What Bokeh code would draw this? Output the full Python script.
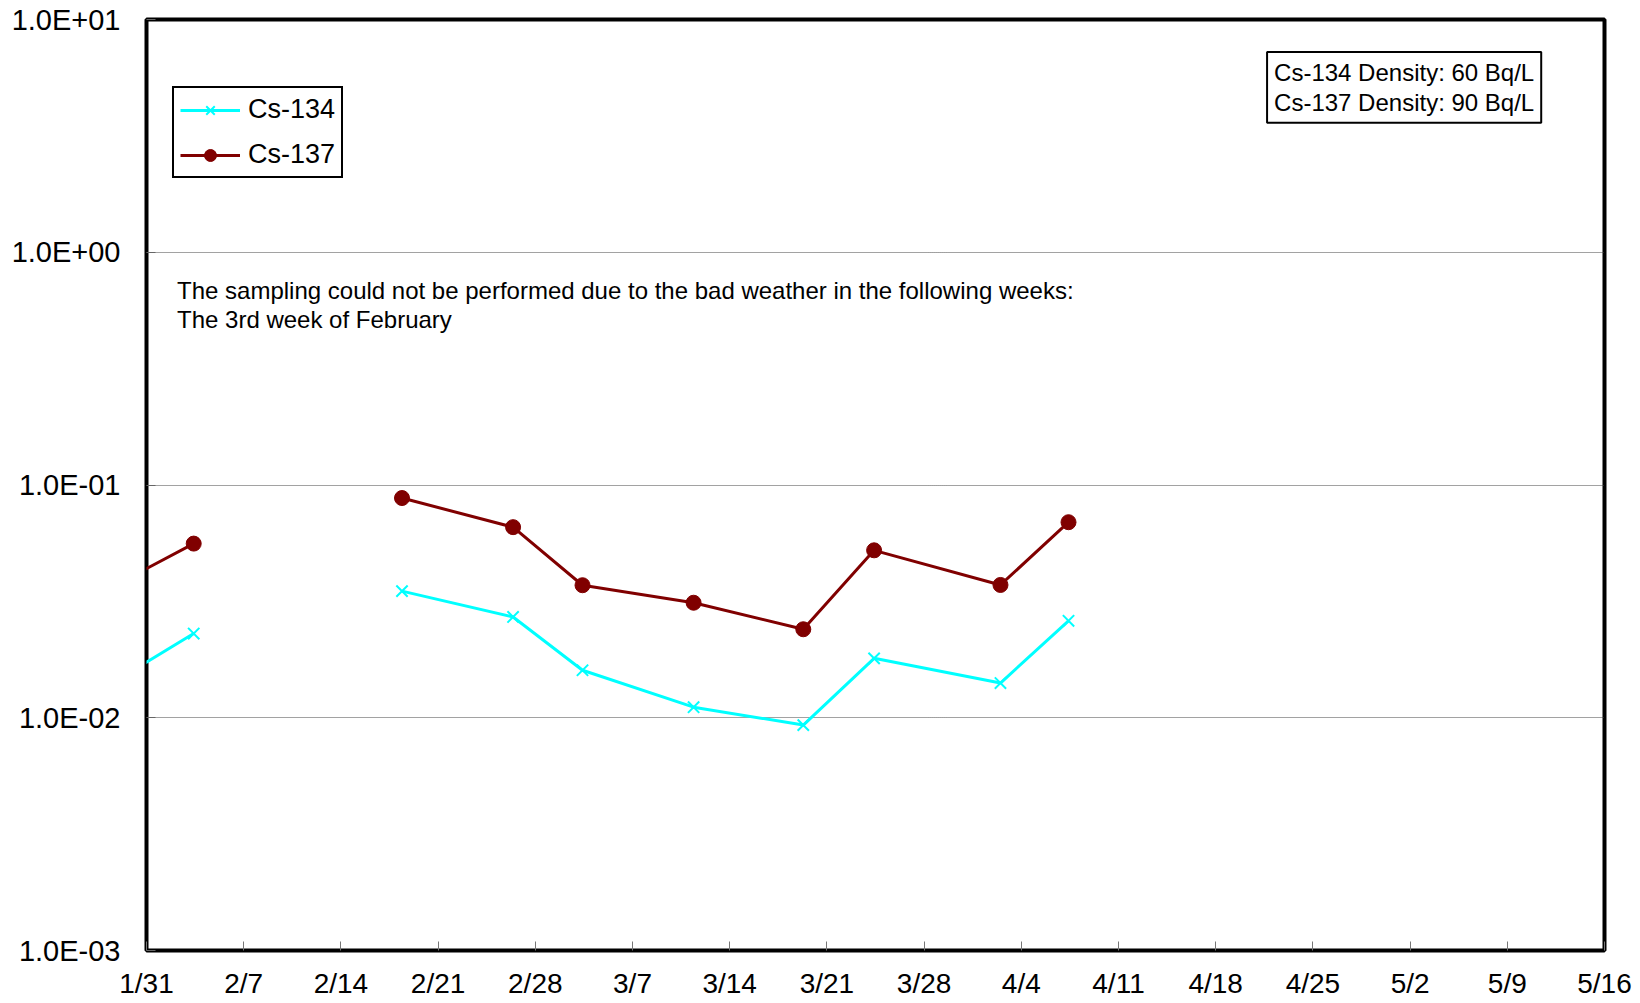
from bokeh.plotting import figure
from bokeh.models import (Range1d, FixedTicker, CustomJSTickFormatter, Legend,
                          LegendItem, Label, ColumnDataSource)
from bokeh.embed import file_html
from bokeh.resources import INLINE
import numpy as np

# ---- data (x = days after 1/31; NaN marks the missed week) ----
sample_day = [-4.6, 3.4, 10.4, 18.4, 26.4, 31.4, 39.4, 47.3, 52.4, 61.5, 66.4]
cs134 = [0.0118, 0.0230, np.nan, 0.0350, 0.0271, 0.0160, 0.0111, 0.0093, 0.0180, 0.0141, 0.0261]
cs137 = [0.0313, 0.0560, np.nan, 0.0879, 0.0659, 0.0371, 0.0312, 0.0240, 0.0524, 0.0372, 0.0692]

x_tick_days = [0, 7, 14, 21, 28, 35, 42, 49, 56, 63, 70, 77, 84, 91, 98, 105]
x_tick_labels = ["1/31", "2/7", "2/14", "2/21", "2/28", "3/7", "3/14", "3/21",
                 "3/28", "4/4", "4/11", "4/18", "4/25", "5/2", "5/9", "5/16"]
y_ticks = [0.001, 0.01, 0.1, 1, 10]

note_text = ("The sampling could not be performed due to the bad weather in the following weeks:\n"
             "The 3rd week of February")
density_text = "Cs-134 Density: 60 Bq/L\nCs-137 Density: 90 Bq/L"

FONT = "Liberation Sans"

src = ColumnDataSource(dict(x=sample_day, c134=cs134, c137=cs137))

p = figure(width=1640, height=1003, output_backend="svg", toolbar_location=None,
           y_axis_type="log", x_range=Range1d(0, 105), y_range=Range1d(0.001, 10),
           min_border_left=146, min_border_right=36, min_border_top=19, min_border_bottom=53)
p.background_fill_color = "white"
p.border_fill_color = "white"
p.outline_line_color = "black"
p.outline_line_width = 4

# axes
p.xaxis.ticker = FixedTicker(ticks=x_tick_days)
p.xaxis.major_label_overrides = {d: l for d, l in zip(x_tick_days, x_tick_labels)}
p.xaxis.minor_tick_line_color = None
p.xaxis.major_tick_in = 9
p.xaxis.major_tick_out = 0
p.xaxis.major_tick_line_color = "#777777"
p.xaxis.axis_line_color = None
p.xaxis.major_label_text_font = FONT
p.xaxis.major_label_text_font_size = "28px"
p.xaxis.major_label_text_color = "black"
p.xaxis.major_label_standoff = 17

p.yaxis.ticker = FixedTicker(ticks=y_ticks)
p.yaxis.formatter = CustomJSTickFormatter(code="""
const e = Math.round(Math.log10(tick));
const a = Math.abs(e);
return "1.0E" + (e < 0 ? "-" : "+") + (a < 10 ? "0" : "") + a;
""")
p.yaxis.minor_tick_line_color = None
p.yaxis.major_tick_in = 9
p.yaxis.major_tick_out = 0
p.yaxis.major_tick_line_color = "#666666"
p.yaxis.axis_line_color = None
p.yaxis.major_label_text_font = FONT
p.yaxis.major_label_text_font_size = "29px"
p.yaxis.major_label_text_color = "black"
p.yaxis.major_label_standoff = 26

p.xgrid.grid_line_color = None
p.ygrid.grid_line_color = "#444444"
p.ygrid.grid_line_dash = "1 1"
p.ygrid.grid_line_width = 1

# series
l134 = p.line("x", "c134", source=src, line_color="#00FFFF", line_width=3)
m134 = p.scatter("x", "c134", source=src, marker="x", size=16, line_color="#00FFFF", line_width=2)
l137 = p.line("x", "c137", source=src, line_color="#800000", line_width=3)
m137 = p.scatter("x", "c137", source=src, marker="circle", size=15, fill_color="#800000",
                 line_color="#800000")

legend = Legend(items=[LegendItem(label="Cs-134", renderers=[l134, m134]),
                       LegendItem(label="Cs-137", renderers=[l137, m137])],
                location=(26, 772))
legend.border_line_color = "black"
legend.border_line_width = 2
legend.border_line_alpha = 1
legend.background_fill_color = "white"
legend.background_fill_alpha = 1
legend.label_text_font = FONT
legend.label_text_font_size = "27px"
legend.label_text_color = "black"
legend.glyph_width = 60
legend.glyph_height = 30
legend.label_height = 30
legend.label_standoff = 8
legend.padding = 6
legend.spacing = 14
legend.margin = 0
p.add_layout(legend, "center")

note = Label(x=2.2, y=0.593, text=note_text, text_font=FONT, text_font_size="24px",
             text_baseline="middle", text_align="left", text_color="black",
             text_line_height=1.1)
p.add_layout(note)

dens = Label(x=80.7, y=7.25, text=density_text, text_font=FONT, text_font_size="24px",
             anchor="top_left", text_align="left", text_color="black", text_line_height=1.1,
             border_line_color="black", border_line_width=2,
             background_fill_color="white", padding=7)
p.add_layout(dens)

open("out.html", "w").write(file_html(p, INLINE))
